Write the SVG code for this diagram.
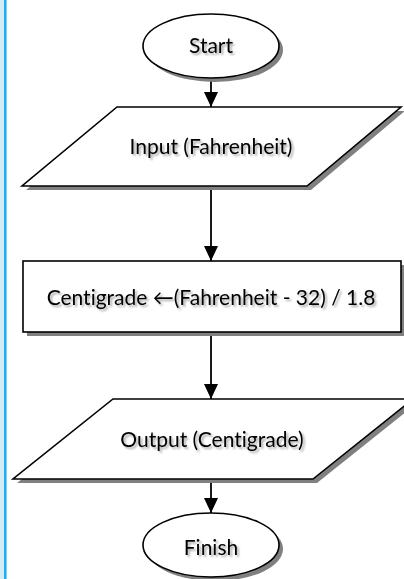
<svg xmlns="http://www.w3.org/2000/svg" width="404" height="579" viewBox="0 0 404 579">
  <defs>
    <marker id="arrow" markerUnits="userSpaceOnUse" markerWidth="14" markerHeight="15" refX="15" refY="7" orient="auto">
      <path d="M0,0 L15,7 L0,14 Z" fill="#000"/>
    </marker>
    <filter id="txtShadow" x="-10%" y="-30%" width="120%" height="160%">
      <feGaussianBlur in="SourceAlpha" stdDeviation="1.2"/>
      <feOffset dx="1.5" dy="1.5" result="b"/>
      <feComponentTransfer><feFuncA type="linear" slope="0.35"/></feComponentTransfer>
      <feMerge><feMergeNode/><feMergeNode in="SourceGraphic"/></feMerge>
    </filter>
  </defs>
  <style>
    .shape { fill: #ffffff; stroke: #000000; stroke-width: 1.6; }
    .shadow { fill: #808080; stroke: none; }
    .label { font-family: Lato, "Open Sans", "Liberation Sans", sans-serif; font-size: 21px; fill: #000; text-anchor: middle; font-variant-ligatures: none; filter: url(#txtShadow); }
    .link { stroke: #000; stroke-width: 1.8; fill: none; marker-end: url(#arrow); }
  </style>

  <rect width="404" height="579" fill="#ffffff"/>
  <!-- page edge -->
  <rect x="0" y="0" width="4" height="579" fill="#d3ebf6"/>
  <rect x="4" y="0" width="2.6" height="579" fill="#1fb0f0"/>

  <g id="connectors">
    <line class="link" x1="211" y1="78" x2="211" y2="107"/>
    <line class="link" x1="211" y1="186" x2="211" y2="261"/>
    <line class="link" x1="211" y1="332" x2="211" y2="399"/>
    <line class="link" x1="211" y1="479" x2="211" y2="513"/>
  </g>

  <g id="start">
    <ellipse class="shadow" cx="215" cy="50" rx="68" ry="32"/>
    <ellipse class="shape" cx="211" cy="46" rx="68" ry="32"/>
    <text class="label" x="211" y="53">Start</text>
  </g>

  <g id="input">
    <polygon class="shadow" points="121,111 405,111 311,190 26,190"/>
    <polygon class="shape" points="117,107 401,107 307,186 22,186"/>
    <text class="label" x="211" y="154">Input (Fahrenheit)</text>
  </g>

  <g id="process">
    <rect class="shadow" x="27" y="265" width="378" height="71"/>
    <rect class="shape" x="23" y="261" width="378" height="71"/>
    <text class="label" x="211" y="305">Centigrade ←(Fahrenheit - 32) / 1.8</text>
  </g>

  <g id="output">
    <polygon class="shadow" points="117,403 417,403 317,483 17,483"/>
    <polygon class="shape" points="113,399 413,399 313,479 13,479"/>
    <text class="label" x="212" y="447">Output (Centigrade)</text>
  </g>

  <g id="finish">
    <ellipse class="shadow" cx="215" cy="549" rx="68" ry="32"/>
    <ellipse class="shape" cx="211" cy="545" rx="68" ry="32"/>
    <text class="label" x="211" y="555">Finish</text>
  </g>
</svg>
